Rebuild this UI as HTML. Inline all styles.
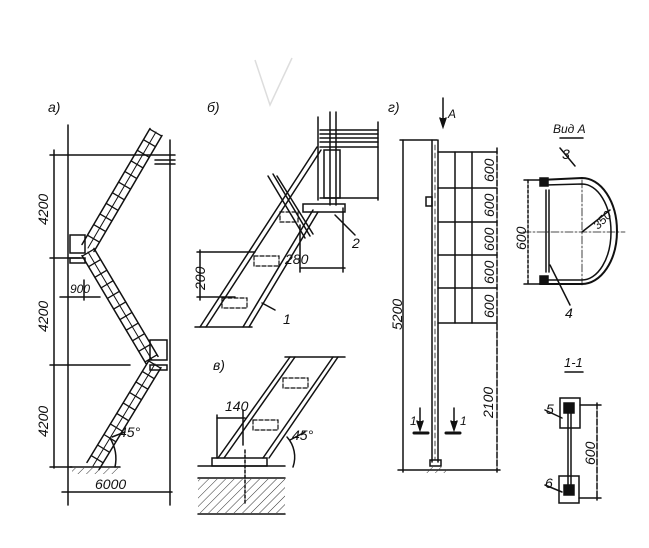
<!DOCTYPE html>
<html><head><meta charset="utf-8"><style>
html,body{margin:0;padding:0;background:#fff;}
svg{display:block}
text{font-family:"Liberation Sans","DejaVu Sans",sans-serif;font-style:italic;fill:#111;}
</style></head><body>
<svg width="649" height="548" viewBox="0 0 649 548" xmlns="http://www.w3.org/2000/svg">
<defs>
<pattern id="h" width="6" height="6" patternUnits="userSpaceOnUse" patternTransform="rotate(45)">
<line x1="0" y1="0" x2="0" y2="6" stroke="#333" stroke-width="1"/></pattern>
</defs>
<g stroke="#ddd" stroke-width="1.5" fill="none"><path d="M255 60 L270 105 L292 58"/></g>
<g stroke="#111" stroke-width="1.5" fill="none" stroke-linecap="round">
<!-- Panel a -->
<line x1="68" y1="125" x2="68" y2="505"/>
<line x1="170" y1="140" x2="170" y2="505"/>
<line x1="54" y1="150" x2="54" y2="468"/>
<line x1="50" y1="155" x2="175" y2="155"/>
<line x1="50" y1="258" x2="80" y2="258"/>
<line x1="50" y1="365" x2="130" y2="365"/>
<line x1="50" y1="467" x2="72" y2="467"/>
<line x1="62" y1="492" x2="172" y2="492"/>
<line x1="60" y1="297" x2="100" y2="297"/>
<line x1="84" y1="280" x2="84" y2="300"/>
<!-- flights: rails -->
<line x1="150" y1="128.5" x2="82" y2="244.5"/>
<line x1="162" y1="135.5" x2="94" y2="251.5"/>
<line x1="156" y1="132" x2="88" y2="248" stroke-width="1"/>
<line x1="82" y1="255.6" x2="146" y2="363.6"/>
<line x1="94" y1="248.4" x2="158" y2="356.4"/>
<line x1="88" y1="252" x2="152" y2="360" stroke-width="1"/>
<line x1="149" y1="360.4" x2="87" y2="462.4"/>
<line x1="161" y1="367.6" x2="99" y2="469.6"/>
<line x1="155" y1="364" x2="93" y2="466" stroke-width="1"/>
<!-- rungs -->
<g stroke-width="14" stroke-dasharray="1.3 11" stroke-linecap="butt">
<line x1="156" y1="132" x2="88" y2="248"/>
<line x1="88" y1="252" x2="152" y2="360"/>
<line x1="155" y1="364" x2="93" y2="466"/>
</g>
<!-- landings -->
<rect x="70" y="235" width="15" height="18"/>
<rect x="70" y="258" width="15" height="5"/>
<rect x="150" y="340" width="17" height="20"/>
<rect x="150" y="365" width="17" height="5"/>
<line x1="155" y1="160" x2="175" y2="160"/>
<line x1="155" y1="164" x2="175" y2="164"/>
<line x1="70" y1="467" x2="120" y2="467"/>
<path d="M115 467 A40 40 0 0 0 110 438"/>
<line x1="112" y1="437" x2="125" y2="432"/>
<!-- Panel b -->
<line x1="200" y1="327" x2="317" y2="147"/>
<line x1="206" y1="327" x2="321" y2="150"/>
<line x1="243" y1="327" x2="313" y2="210"/>
<line x1="249" y1="327" x2="318" y2="212"/>
<line x1="268" y1="176" x2="305" y2="238"/>
<line x1="273" y1="174" x2="310" y2="236"/>
<line x1="277" y1="176" x2="313" y2="234"/>
<line x1="195" y1="327" x2="252" y2="327"/>
<line x1="318" y1="117" x2="318" y2="200"/>
<line x1="330" y1="112" x2="330" y2="205"/>
<line x1="336" y1="112" x2="336" y2="205"/>
<line x1="320" y1="130" x2="378" y2="130"/>
<line x1="320" y1="134" x2="378" y2="134"/>
<line x1="320" y1="138" x2="378" y2="138"/>
<line x1="320" y1="142" x2="378" y2="142"/>
<line x1="320" y1="147" x2="378" y2="147"/>
<line x1="378" y1="122" x2="378" y2="200"/>
<rect x="324" y="150" width="16" height="48"/>
<line x1="320" y1="198" x2="378" y2="198"/>
<rect x="303" y="204" width="42" height="8"/>
<line x1="197" y1="252" x2="255" y2="252"/>
<line x1="197" y1="297" x2="235" y2="297"/>
<line x1="200" y1="250" x2="200" y2="300"/>
<line x1="300" y1="268" x2="345" y2="268"/>
<line x1="300" y1="225" x2="300" y2="272"/>
<line x1="343" y1="208" x2="343" y2="272"/>
<line x1="335" y1="215" x2="355" y2="235"/>
<line x1="262" y1="303" x2="275" y2="310"/>
<g stroke-dasharray="4 2" stroke-width="1.2"><rect x="222" y="298" width="25" height="10"/><rect x="254" y="256" width="25" height="10"/><rect x="280" y="212" width="18" height="10"/></g>
<!-- Panel v -->
<line x1="218" y1="458" x2="290" y2="357"/>
<line x1="224" y1="458" x2="295" y2="357"/>
<line x1="263" y1="458" x2="333" y2="357"/>
<line x1="269" y1="458" x2="338" y2="357"/>
<line x1="285" y1="357" x2="345" y2="357"/>
<rect x="212" y="458" width="55" height="8"/>
<line x1="198" y1="466" x2="285" y2="466"/>
<line x1="198" y1="478" x2="285" y2="478"/>
<line x1="198" y1="514" x2="285" y2="514"/>
<line x1="217" y1="415" x2="217" y2="458"/>
<line x1="217" y1="418" x2="245" y2="418"/>
<line x1="243" y1="410" x2="243" y2="445"/>
<path d="M293 467 A30 30 0 0 0 287 437"/>
<line x1="290" y1="440" x2="305" y2="432"/>
<line x1="245" y1="450" x2="245" y2="505" stroke-dasharray="3 2"/>
<g stroke-dasharray="4 2" stroke-width="1.2"><rect x="253" y="420" width="25" height="10"/><rect x="283" y="378" width="25" height="10"/></g>
<!-- Panel g -->
<line x1="432" y1="140" x2="432" y2="462"/>
<line x1="438" y1="140" x2="438" y2="462"/>
<line x1="435" y1="145" x2="435" y2="460" stroke-dasharray="5 3" stroke-width="0.8"/>
<rect x="430" y="460" width="11" height="6"/>
<line x1="403" y1="140" x2="403" y2="472"/>
<line x1="400" y1="140" x2="437" y2="140"/>
<line x1="398" y1="470" x2="500" y2="470"/>
<line x1="497" y1="148" x2="497" y2="472" stroke-dasharray="6 2"/>
<line x1="438" y1="152" x2="497" y2="152"/>
<line x1="438" y1="188" x2="497" y2="188"/>
<line x1="438" y1="222" x2="497" y2="222"/>
<line x1="438" y1="255" x2="497" y2="255"/>
<line x1="438" y1="288" x2="497" y2="288"/>
<line x1="438" y1="323" x2="497" y2="323"/>
<line x1="455" y1="152" x2="455" y2="323"/>
<line x1="472" y1="152" x2="472" y2="323"/>
<rect x="426" y="197" width="6" height="9"/>
<line x1="443" y1="98" x2="443" y2="125"/>
<path d="M440 118 L443 127 L446 118" fill="#111"/>
<line x1="420" y1="408" x2="420" y2="428"/><path d="M417 421 L420 430 L423 421" fill="#111"/>
<line x1="454" y1="408" x2="454" y2="428"/><path d="M451 421 L454 430 L457 421" fill="#111"/>
<line x1="414" y1="433" x2="428" y2="433" stroke-width="3"/>
<line x1="446" y1="433" x2="460" y2="433" stroke-width="3"/>
<!-- Vid A -->
<path d="M540 180 L582 178 A35 53 0 0 1 582 284 L540 284" stroke-width="2"/>
<path d="M545 185 L582 184 A29 48 0 0 1 582 280 L545 280"/>
<rect x="540" y="178" width="8" height="8" fill="#111"/>
<rect x="540" y="276" width="8" height="8" fill="#111"/>
<line x1="546" y1="190" x2="546" y2="272"/>
<line x1="549" y1="190" x2="549" y2="272"/>
<line x1="523" y1="232" x2="625" y2="232" stroke-dasharray="8 2 2 2" stroke-width="0.8"/>
<line x1="582" y1="180" x2="582" y2="285" stroke-dasharray="8 2 2 2" stroke-width="0.8"/>
<line x1="582" y1="232" x2="610" y2="210"/>
<line x1="528" y1="180" x2="528" y2="284" stroke-dasharray="3 2"/>
<line x1="524" y1="180" x2="542" y2="180"/>
<line x1="524" y1="284" x2="542" y2="284"/>
<line x1="560" y1="148" x2="575" y2="166"/>
<line x1="550" y1="265" x2="570" y2="305"/>
<line x1="560" y1="138" x2="583" y2="138"/>
<line x1="565" y1="372" x2="583" y2="372"/>
<!-- section 1-1 -->
<rect x="560" y="398" width="20" height="30"/>
<rect x="559" y="476" width="20" height="27"/>
<rect x="564" y="403" width="10" height="10" fill="#111"/>
<rect x="564" y="485" width="10" height="10" fill="#111"/>
<line x1="568" y1="410" x2="568" y2="490"/>
<line x1="571" y1="410" x2="571" y2="490"/>
<line x1="580" y1="405" x2="601" y2="405"/>
<line x1="579" y1="498" x2="601" y2="498"/>
<line x1="597" y1="403" x2="597" y2="500" stroke-dasharray="6 2"/>
<line x1="545" y1="410" x2="562" y2="418"/>
<line x1="545" y1="485" x2="562" y2="492"/>
</g>
<!-- hatch areas -->
<rect x="72" y="468" width="48" height="6" fill="url(#h)"/>
<rect x="198" y="479" width="87" height="34" fill="url(#h)"/>
<rect x="425" y="467" width="22" height="6" fill="url(#h)"/>
<!-- text -->
<g font-size="14">
<text x="48" y="112">а)</text>
<text x="207" y="112">б)</text>
<text x="213" y="370">в)</text>
<text x="388" y="112">г)</text>
<text x="448" y="118" font-size="12">А</text>
<text x="553" y="133" font-size="12">Вид А</text>
<text x="562" y="159">3</text>
<text x="565" y="318">4</text>
<text x="564" y="367" font-size="13">1-1</text>
<text x="546" y="414">5</text>
<text x="545" y="488">6</text>
<text x="352" y="248">2</text>
<text x="283" y="324">1</text>
<text x="410" y="425" font-size="12">1</text>
<text x="460" y="425" font-size="12">1</text>
<text x="285" y="264">280</text>
<text x="225" y="411">140</text>
<text x="119" y="437">45°</text>
<text x="292" y="440">45°</text>
<text x="95" y="489">6000</text>
<text x="598" y="230" font-size="12" transform="rotate(-45 598 230)">350</text>
<text x="70" y="293" font-size="12">900</text>
</g>
<g font-size="14">
<text transform="translate(48,225) rotate(-90)">4200</text>
<text transform="translate(48,332) rotate(-90)">4200</text>
<text transform="translate(48,437) rotate(-90)">4200</text>
<text transform="translate(205,290) rotate(-90)">200</text>
<text transform="translate(402,330) rotate(-90)">5200</text>
<text transform="translate(493,418) rotate(-90)">2100</text>
<text transform="translate(494,182) rotate(-90)">600</text>
<text transform="translate(494,217) rotate(-90)">600</text>
<text transform="translate(494,251) rotate(-90)">600</text>
<text transform="translate(494,284) rotate(-90)">600</text>
<text transform="translate(494,318) rotate(-90)">600</text>
<text transform="translate(526,250) rotate(-90)">600</text>
<text transform="translate(595,465) rotate(-90)">600</text>
</g>
</svg>
</body></html>
